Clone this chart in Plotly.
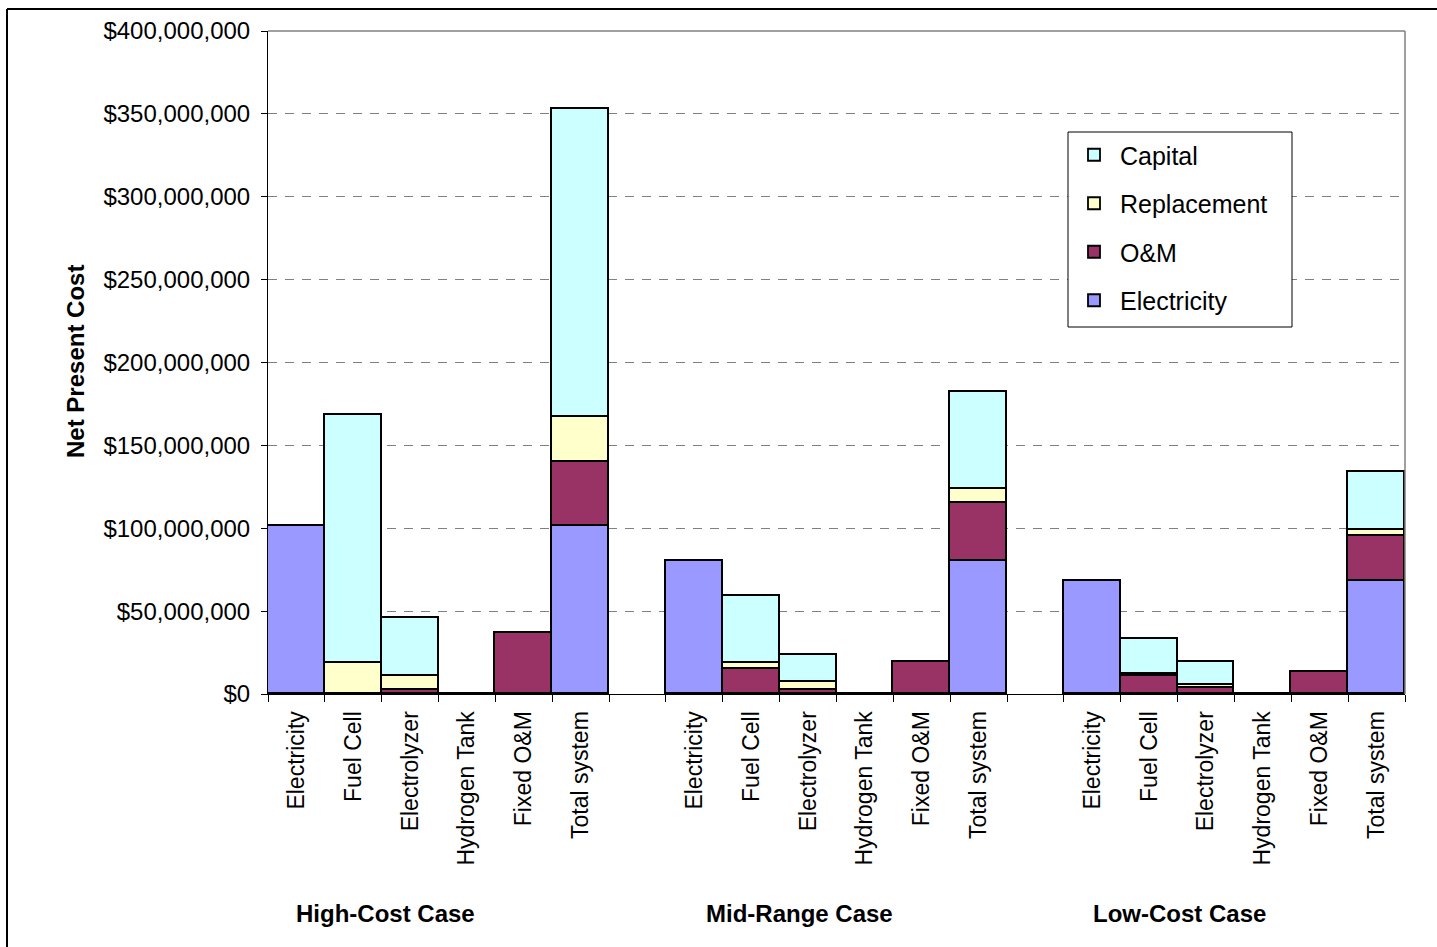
import plotly.graph_objects as go

# ---------------- data ($ millions) ----------------
cases = ["High-Cost Case", "Mid-Range Case", "Low-Cost Case"]
components = ["Electricity", "Fuel Cell", "Electrolyzer", "Hydrogen Tank", "Fixed O&M", "Total system"]

electricity = {
    "High-Cost Case": [101.4, 0, 0, 0, 0, 101.4],
    "Mid-Range Case": [80.2, 0, 0, 0, 0, 80.2],
    "Low-Cost Case": [68.4, 0, 0, 0, 0, 68.4],
}
om = {
    "High-Cost Case": [0, 0, 2.4, 0, 36.6, 38.6],
    "Mid-Range Case": [0, 15.3, 2.4, 0, 19.1, 35.0],
    "Low-Cost Case": [0, 10.9, 3.4, 0, 13.3, 27.1],
}
replacement = {
    "High-Cost Case": [0, 18.9, 8.3, 0, 0, 27.3],
    "Mid-Range Case": [0, 3.6, 4.8, 0, 0, 8.5],
    "Low-Cost Case": [0, 1.2, 2.0, 0, 0, 3.3],
}
capital = {
    "High-Cost Case": [0, 149.4, 35.3, 0, 0, 185.7],
    "Mid-Range Case": [0, 40.2, 16.5, 0, 0, 58.7],
    "Low-Cost Case": [0, 21.1, 13.7, 0, 0, 35.3],
}

y_ticks = [0, 50, 100, 150, 200, 250, 300, 350, 400]

# (name, data, colour, legend rank)
series = [
    ("Electricity", electricity, "#9999FF", 4),
    ("O&M", om, "#993366", 3),
    ("Replacement", replacement, "#FFFFCC", 2),
    ("Capital", capital, "#CCFFFF", 1),
]

# ---------------- layout helpers ----------------
W, H = 1437, 947
L, R, T, B = 268, 32, 31, 253
PW, PH = W - L - R, H - T - B
n_comp = len(components)
step = n_comp + 1  # one empty slot between cases

def px_to_paper_x(px):
    return (px - L) / PW

def px_to_paper_y(py):
    return (H - B - py) / PH

xs, labels = [], []
for g, case in enumerate(cases):
    for i, comp in enumerate(components):
        xs.append(g * step + i)
        labels.append(comp)

FONT = "Liberation Sans, Arial, sans-serif"

fig = go.Figure()
for name, data, color, rank in series:
    ys = []
    for case in cases:
        ys.extend([v * 1e6 for v in data[case]])
    fig.add_trace(go.Bar(
        x=xs, y=ys, name=name, legendgroup=name, legendrank=rank,
        width=1.0,
        marker=dict(color=color, line=dict(color="black", width=1.8)),
    ))

boundaries = sorted(set([x - 0.5 for x in xs] + [x + 0.5 for x in xs]))
y_ticktext = ["$" + f"{v * 1e6:,.0f}" for v in y_ticks]

fig.update_layout(
    width=W, height=H,
    margin=dict(l=L, r=R, t=T, b=B, pad=0),
    paper_bgcolor="white", plot_bgcolor="white",
    barmode="stack", bargap=0,
    font=dict(family=FONT, size=24, color="black"),
    showlegend=True,
    legend=dict(
        x=px_to_paper_x(1068), y=px_to_paper_y(132),
        xanchor="left", yanchor="top",
        borderwidth=0, bgcolor="rgba(0,0,0,0)",
        font=dict(family=FONT, size=25, color="black"),
        traceorder="grouped", tracegroupgap=13,
        itemwidth=42,
    ),
    xaxis=dict(
        range=[-0.5, xs[-1] + 0.5],
        tickmode="array", tickvals=xs, ticktext=labels,
        tickangle=-90, ticks="", showgrid=False,
        showline=True, linecolor="black", linewidth=1,
        tickfont=dict(family=FONT, size=23, color="black"),
        ticklabelstandoff=7,
        minor=dict(tickmode="array", tickvals=boundaries, ticks="outside",
                   ticklen=7, tickcolor="black", tickwidth=1, showgrid=False),
        zeroline=False,
    ),
    yaxis=dict(
        range=[0, 400e6],
        tickmode="array", tickvals=[v * 1e6 for v in y_ticks], ticktext=y_ticktext,
        ticks="outside", ticklen=6, tickcolor="black",
        showline=True, linecolor="black", linewidth=1,
        showgrid=True, gridcolor="#808080", gridwidth=1, griddash="9px,8px",
        tickfont=dict(family=FONT, size=24, color="black"),
        ticklabelstandoff=6,
        zeroline=False,
    ),
)

# plot-area border (top and right, gray)
fig.add_shape(type="line", xref="paper", yref="paper", x0=0, x1=1, y0=1, y1=1,
              line=dict(color="#808080", width=1.5))
fig.add_shape(type="line", xref="paper", yref="paper", x0=1, x1=1, y0=0, y1=1,
              line=dict(color="#808080", width=1.5))

# legend box
fig.add_shape(type="rect", xref="paper", yref="paper", layer="above",
              x0=px_to_paper_x(1068), x1=px_to_paper_x(1292),
              y0=px_to_paper_y(327), y1=px_to_paper_y(132),
              fillcolor="white", line=dict(color="black", width=1))

# outer chart frame (left and top)
fig.add_shape(type="line", xref="paper", yref="paper",
              x0=px_to_paper_x(7), x1=px_to_paper_x(7), y0=px_to_paper_y(9), y1=px_to_paper_y(H + 5),
              line=dict(color="black", width=2))
fig.add_shape(type="line", xref="paper", yref="paper",
              x0=px_to_paper_x(7), x1=px_to_paper_x(W + 5), y0=px_to_paper_y(9), y1=px_to_paper_y(9),
              line=dict(color="black", width=2))

# y axis title
fig.add_annotation(text="<b>Net Present Cost</b>", xref="paper", yref="paper",
                   x=px_to_paper_x(75), y=px_to_paper_y(362), textangle=-90,
                   showarrow=False, xanchor="center", yanchor="middle",
                   font=dict(family=FONT, size=24, color="black"))

# case labels
case_label_px = [385, 799, 1179]
for case, cx in zip(cases, case_label_px):
    fig.add_annotation(text="<b>" + case + "</b>", xref="paper", yref="paper",
                       x=px_to_paper_x(cx), y=px_to_paper_y(913),
                       showarrow=False, xanchor="center", yanchor="middle",
                       font=dict(family=FONT, size=24, color="black"))

fig.write_html("out.html", config={"displayModeBar": False},
               post_script="document.body.style.margin='0';")
